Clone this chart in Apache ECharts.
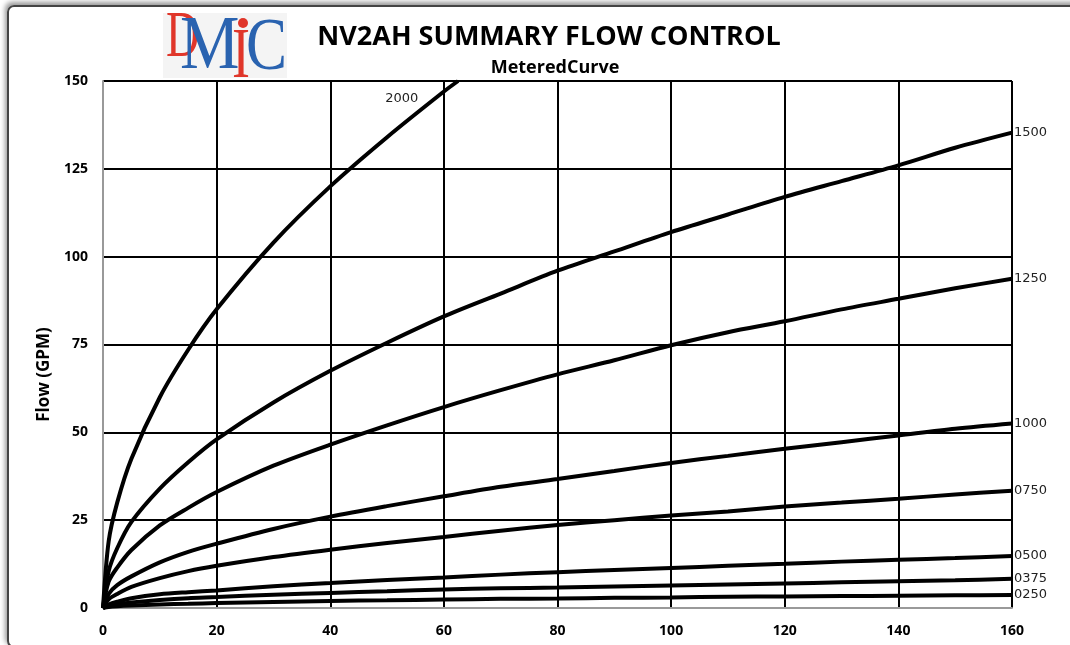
<!DOCTYPE html>
<html lang="en">
<head>
    <meta charset="UTF-8">
    <title>NV2AH Summary Flow Control</title>
    <script src="https://cdn.jsdelivr.net/npm/echarts@6/dist/echarts.min.js"></script>
    <style>
        html, body { margin: 0; padding: 0; background: #fff; overflow: hidden; }
        #frame {
            position: absolute; left: 7px; top: 5px; right: -10px; bottom: -3px;
            border: 2px solid #444; border-top-left-radius: 7px; border-bottom-left-radius: 7px;
            box-shadow: -2px -3px 5px #999;
        }
        #chart-container { position: absolute; left: 0; top: 0; width: 1070px; height: 645px; }
    </style>
</head>
<body>
<div id="frame"></div>
<div id="chart-container"></div>
</body>
<script type="text/javascript">
    // pressure drop (x) sample points
    var dpX = [0, 1, 2.5, 5, 10, 15, 20, 30, 40, 50, 60, 70, 80, 90, 100, 110, 120, 130, 140, 150, 160];
    var dpX2000 = [0, 1, 2.5, 5, 10, 15, 20, 30, 40, 50, 60, 62.5];

    // flow (GPM) per size
    var flow2000 = [0, 19, 30, 42.5, 60, 73.5, 85, 104, 120, 134, 147, 150];
    var flow1500 = [0, 10.5, 17, 24.5, 34, 41.5, 48, 58.5, 67.5, 75.5, 83, 89.5, 96, 101.5, 107, 112, 117, 121.5, 126, 131, 135.3];
    var flow1250 = [0, 7.5, 11.5, 16.5, 23.5, 28.5, 33, 40.5, 46.5, 52, 57.2, 62, 66.5, 70.5, 74.8, 78.5, 81.6, 85, 88, 91, 93.7];
    var flow1000 = [0, 4, 6.5, 9, 13, 16, 18.3, 22.5, 26, 29, 31.8, 34.5, 36.7, 39, 41.3, 43.3, 45.3, 47.2, 49.1, 51, 52.5];
    var flow0750 = [0, 2.5, 4, 6, 8.5, 10.5, 12, 14.5, 16.6, 18.5, 20.2, 22, 23.6, 25, 26.3, 27.5, 28.9, 30, 31.1, 32.3, 33.4];
    var flow0500 = [0, 1, 1.8, 2.8, 3.9, 4.5, 5.0, 6.2, 7.1, 8, 8.7, 9.5, 10.2, 10.8, 11.4, 12, 12.6, 13.2, 13.7, 14.2, 14.8];
    var flow0375 = [0, 0.7, 1.1, 1.6, 2.3, 2.8, 3.1, 3.8, 4.3, 4.8, 5.3, 5.6, 5.8, 6.1, 6.4, 6.7, 7.0, 7.3, 7.6, 7.9, 8.3];
    var flow0250 = [0, 0.3, 0.5, 0.7, 1.0, 1.2, 1.4, 1.7, 2.0, 2.2, 2.4, 2.6, 2.7, 2.9, 3.0, 3.2, 3.3, 3.4, 3.5, 3.6, 3.7];

    var xTicks = [0, 20, 40, 60, 80, 100, 120, 140, 160];
    var yTicks = [0, 25, 50, 75, 100, 125, 150];

    var curves = [
        { name: '1500', values: flow1500 },
        { name: '1250', values: flow1250 },
        { name: '1000', values: flow1000 },
        { name: '0750', values: flow0750 },
        { name: '0500', values: flow0500 },
        { name: '0375', values: flow0375 },
        { name: '0250', values: flow0250 }
    ];

    var container = document.getElementById('chart-container');
    var myChart = echarts.init(container);

    var lineBase = {
        type: 'line',
        showSymbol: false,
        symbol: 'none',
        smooth: 0.3,
        lineStyle: { color: '#000', width: 4 },
        emphasis: { disabled: true }
    };

    var labelFont = { color: '#222', fontSize: 13, fontFamily: 'DejaVu Sans' };

    var series = curves.map(function (c) {
        return Object.assign({}, lineBase, {
            name: c.name,
            data: dpX.map(function (x, i) { return [x, c.values[i]]; }),
            endLabel: Object.assign({ show: true, formatter: '{a}', distance: 2 }, labelFont)
        });
    });

    // the 2000 curve runs off the top, its label sits beside it
    series.unshift(Object.assign({}, lineBase, {
        name: '2000',
        data: dpX2000.map(function (x, i) { return [x, flow2000[i]]; }),
        markPoint: {
            symbol: 'circle',
            symbolSize: 0,
            silent: true,
            label: Object.assign({ show: true, position: 'inside', formatter: '2000' }, labelFont),
            data: [{ coord: [52.6, 145] }]
        }
    }));

    var tickFont = { color: '#000', fontSize: 14, fontWeight: 'bold', fontFamily: 'Open Sans' };

    function logoLetter(ch, x, y, size, sx, color) {
        return {
            type: 'text', x: x, y: y, scaleX: sx, silent: true,
            style: { text: ch, fontSize: size, fontFamily: 'Liberation Serif', fill: color, verticalAlign: 'bottom' }
        };
    }

    var option = {
        animation: false,
        title: [
            {
                text: 'NV2AH SUMMARY FLOW CONTROL',
                left: 544, top: 19, textAlign: 'center',
                textStyle: { fontSize: 27, fontWeight: 'bold', fontFamily: 'Open Sans', color: '#000' }
            },
            {
                text: 'MeteredCurve',
                left: 550, top: 54, textAlign: 'center',
                textStyle: { fontSize: 18, fontWeight: 'bold', fontFamily: 'Open Sans', color: '#000' }
            }
        ],
        grid: { left: 103, right: 58, top: 81, bottom: 37, containLabel: false },
        xAxis: {
            type: 'value',
            min: xTicks[0], max: xTicks[xTicks.length - 1], interval: 20,
            axisLine: { show: true, lineStyle: { color: '#999', width: 2 } },
            axisTick: { show: false },
            axisLabel: Object.assign({ margin: 16 }, tickFont),
            splitLine: { show: true, lineStyle: { color: '#000', width: 2 } }
        },
        yAxis: {
            type: 'value',
            min: yTicks[0], max: yTicks[yTicks.length - 1], interval: 25,
            name: 'Flow (GPM)',
            nameLocation: 'middle',
            nameGap: 50,
            nameTextStyle: { fontSize: 17, fontWeight: 'bold', fontFamily: 'Open Sans', color: '#000', padding: [0, 60, 0, 0] },
            axisLine: { show: true, lineStyle: { color: '#999', width: 2 } },
            axisTick: { show: false },
            axisLabel: Object.assign({ margin: 15 }, tickFont),
            splitLine: { show: true, lineStyle: { color: '#000', width: 2 } }
        },
        graphic: [
            { type: 'rect', silent: true, shape: { x: 163, y: 13, width: 124, height: 65 }, style: { fill: '#f4f4f4' } },
            logoLetter('D', 166, 72, 66, 0.7, '#e0362a'),
            logoLetter('M', 180, 86, 76, 0.88, '#2a63b0'),
            logoLetter('I', 232, 94, 72, 0.75, '#e0362a'),
            { type: 'circle', silent: true, shape: { cx: 243, cy: 23, r: 5 }, style: { fill: '#e0362a' } },
            logoLetter('C', 246, 87, 75, 0.82, '#2a63b0')
        ],
        series: series
    };

    myChart.setOption(option);
</script>
</html>
